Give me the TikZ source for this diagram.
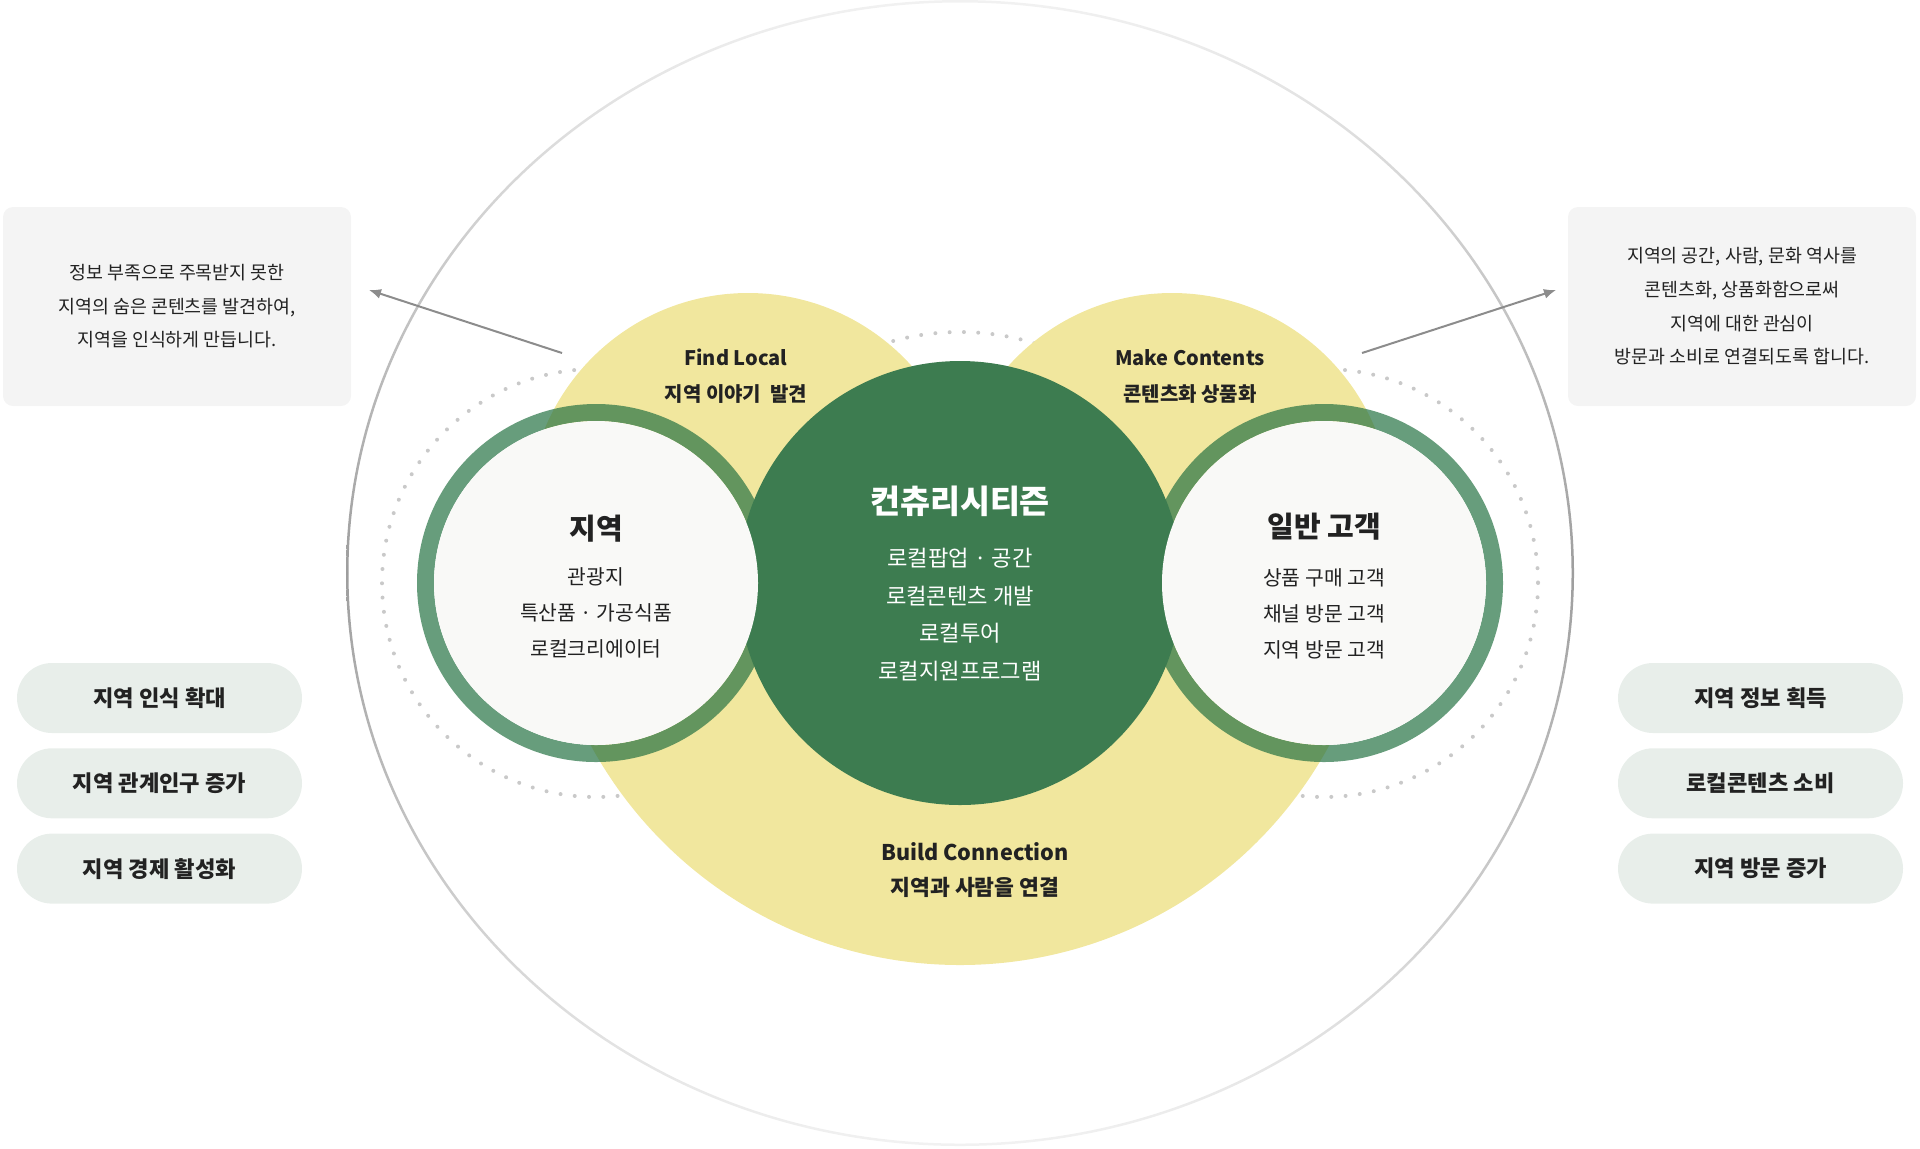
\documentclass[tikz,border=0pt]{standalone}
\usepackage{fontspec}
\setmainfont{Noto Sans CJK KR}
\usetikzlibrary{positioning, calc, arrows.meta}
\definecolor{Dark}{HTML}{222222}
\definecolor{Leaf}{HTML}{3D7C50}
\definecolor{RingGreen}{HTML}{277344}
\definecolor{Butter}{HTML}{F1E79E}
\definecolor{Paper}{HTML}{F9F9F7}
\definecolor{Mist}{HTML}{F4F4F4}
\definecolor{Sage}{HTML}{E8EEEA}
\definecolor{Dot}{HTML}{C9C9C9}
\definecolor{Wire}{HTML}{8C8C8C}
\tikzset{
    infobox/.style={rectangle, rounded corners=5pt, fill=Mist, text=Dark, align=center, minimum width=174pt, minimum height=99.5pt, font=\fontsize{9.2}{16.8}\selectfont},
    pill/.style={rectangle, rounded corners=17.5pt, fill=Sage, text=Dark, minimum width=142.5pt, minimum height=35pt, font=\bfseries\fontsize{11.1}{13}\selectfont},
    lobetext/.style={align=center, text=Dark, inner sep=0pt, font=\bfseries\fontsize{10}{18}\selectfont},
    titletext/.style={text=Dark, inner sep=0pt, font=\bfseries\fontsize{14.5}{17}\selectfont},
    bodytext/.style={align=center, text=Dark, inner sep=0pt, font=\fontsize{10.2}{18}\selectfont},
    arrow/.style={-{Latex[length=6pt, width=5pt]}, line width=1pt, draw=Wire},
    dotring/.style={draw=Dot, line width=2pt, line cap=round, dash pattern=on 0pt off 7.15pt},
    ring/.style={draw=RingGreen, draw opacity=0.7, line width=8.5pt},
}
\begin{document}
\begin{tikzpicture}[x=0.5pt, y=-0.5pt]
    \useasboundingbox (0,0) rectangle (1920,1148);

    % cornice esterna, sfumata in alto e in basso
    \shade[even odd rule, top color=Dot!25, bottom color=Dot!25, middle color=Wire!85]
        (960,573) ellipse [x radius=614, y radius=573]
        (960,573) ellipse [x radius=611.5, y radius=570.5];

    % cerchi puntinati
    \draw[dotring] (596,583) circle[radius=214];
    \draw[dotring] (960,583) circle[radius=251];
    \draw[dotring] (1324,583) circle[radius=214];

    % petali gialli
    \fill[Butter] (748,513) circle[radius=220];
    \fill[Butter] (1172,513) circle[radius=220];
    \begin{scope}
        \clip (0,545) rectangle (1920,1148);
        \fill[Butter] (960,545) circle[radius=420];
    \end{scope}

    % anelli laterali (sotto il cerchio centrale)
    \draw[ring] (596,583) circle[radius=170.5];
    \draw[ring] (1324,583) circle[radius=170.5];

    % cerchio centrale
    \fill[Leaf] (960,583) circle[radius=222];

    % fondo bianco dei cerchi laterali
    \fill[Paper] (596,583) circle[radius=162];
    \fill[Paper] (1324,583) circle[radius=162];

    % testi dei petali
    \node[lobetext] (findlabel) at (736,376) {Find Local\\지역 이야기\ \ 발견};
    \node[lobetext] (makelabel) at (1190,376) {Make Contents\\콘텐츠화 상품화};
    \node[lobetext, font=\bfseries\fontsize{10.8}{17.5}\selectfont] (buildlabel) at (975,870) {Build Connection\\지역과 사람을 연결};

    % testi dei cerchi
    \node[titletext] (localtitle) at (596,529) {지역};
    \node[bodytext] (localbody) at (596,613) {관광지\\특산품 · 가공식품\\로컬크리에이터};
    \node[titletext, text=white, font=\bfseries\fontsize{16.3}{19}\selectfont] (hubtitle) at (960,501) {컨츄리시티즌};
    \node[bodytext, text=white, font=\fontsize{11.1}{18.75}\selectfont] (hubbody) at (960,614.5) {로컬팝업 · 공간\\로컬콘텐츠 개발\\로컬투어\\로컬지원프로그램};
    \node[titletext] (guesttitle) at (1324,527) {일반 고객};
    \node[bodytext] (guestbody) at (1324,614) {상품 구매 고객\\채널 방문 고객\\지역 방문 고객};

    % box descrittivi
    \node[infobox] (findbox) at (177,306.5) {정보 부족으로 주목받지 못한\\지역의 숨은 콘텐츠를 발견하여,\\지역을 인식하게 만듭니다.};
    \node[infobox] (makebox) at (1742,306.5) {지역의 공간, 사람, 문화 역사를\\콘텐츠화, 상품화함으로써\\지역에 대한 관심이\\방문과 소비로 연결되도록 합니다.};

    % frecce verso i box
    \coordinate (findtail) at (562,353);
    \coordinate (findtip) at (369,290);
    \coordinate (maketail) at (1362,353);
    \coordinate (maketip) at (1556,290);
    \draw[arrow] (findtail) -- (findtip);
    \draw[arrow] (maketail) -- (maketip);

    % risultati
    \node[pill] (aware) at (159.5,698) {지역 인식 확대};
    \node[pill, below=7.25pt of aware] (relation) {지역 관계인구 증가};
    \node[pill, below=7.25pt of relation] (economy) {지역 경제 활성화};
    \node[pill] (inform) at (1760.5,698) {지역 정보 획득};
    \node[pill, below=7.25pt of inform] (consume) {로컬콘텐츠 소비};
    \node[pill, below=7.25pt of consume] (visit) {지역 방문 증가};

\end{tikzpicture}
\end{document}
